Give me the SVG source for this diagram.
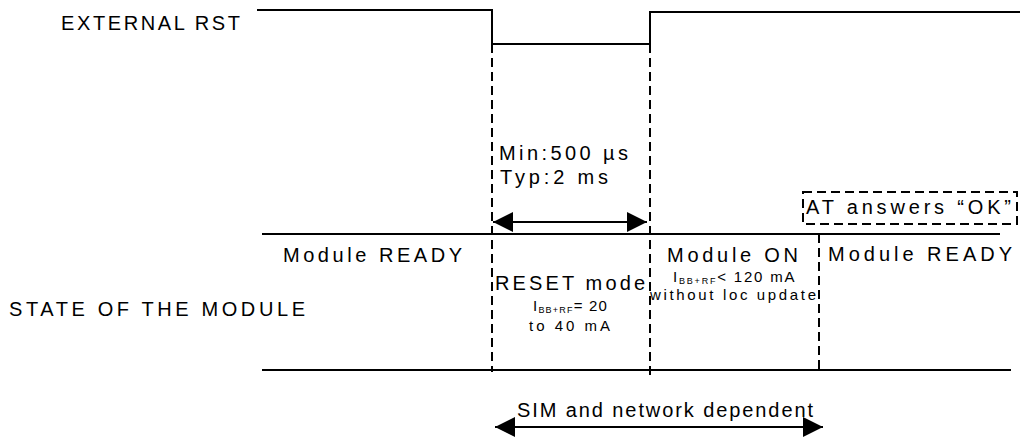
<svg xmlns="http://www.w3.org/2000/svg" width="1020" height="437" viewBox="0 0 1020 437">
<style>
text{font-family:"Liberation Sans",Arial,sans-serif;fill:#000}
.big{font-size:20px}
.sm{font-size:15px}
.sub{font-size:9px}
.sig{fill:none;stroke:#000;stroke-width:2}
.dash{fill:none;stroke:#000;stroke-width:2;stroke-dasharray:9 5}
.arr{stroke:#000;stroke-width:2;marker-start:url(#ah);marker-end:url(#ah)}
</style>
<defs>
<marker id="ah" viewBox="0 0 20 20" refX="20" refY="10" markerWidth="20" markerHeight="20" markerUnits="userSpaceOnUse" orient="auto-start-reverse">
<path d="M0,0 L20,10 L0,20 Z" fill="#000"/>
</marker>
</defs>
<g id="labels">
<text class="big" x="61" y="30" textLength="179" lengthAdjust="spacing">EXTERNAL RST</text>
<text class="big" x="9" y="316" textLength="296" lengthAdjust="spacing">STATE OF THE MODULE</text>
</g>
<g id="rst-signal">
<polyline class="sig" points="257,10 492,10 492,44 650,44 650,12 1020,12"/>
</g>
<g id="state-lines">
<line class="sig" x1="262" y1="234" x2="1000" y2="234"/>
<line class="sig" x1="262" y1="370" x2="1011" y2="370"/>
</g>
<g id="connectors">
<line class="dash" x1="492" y1="44" x2="492" y2="372"/>
<line class="dash" x1="650" y1="44" x2="650" y2="376"/>
<line class="dash" x1="819" y1="234" x2="819" y2="370"/>
<line class="arr" x1="493" y1="222" x2="647" y2="222"/>
<line class="arr" x1="495" y1="427" x2="823" y2="427"/>
</g>
<g id="pulse-width">
<text class="big" x="499" y="160" textLength="129" lengthAdjust="spacing">Min:500 µs</text>
<text class="big" x="500" y="184" textLength="108" lengthAdjust="spacing">Typ:2 ms</text>
</g>
<g id="state-ready-1">
<text class="big" x="283" y="262" textLength="179" lengthAdjust="spacing">Module READY</text>
</g>
<g id="state-reset">
<text class="big" x="495" y="290" textLength="150" lengthAdjust="spacing">RESET mode</text>
<text class="sm" x="533" y="311" letter-spacing="1.2">I<tspan class="sub" dy="2">BB+RF</tspan><tspan dy="-2">= 20</tspan></text>
<text class="sm" x="529" y="331" textLength="81" lengthAdjust="spacing">to 40 mA</text>
</g>
<g id="state-on">
<text class="big" x="667" y="262" textLength="131" lengthAdjust="spacing">Module ON</text>
<text class="sm" x="673" y="282" letter-spacing="1.8">I<tspan class="sub" dy="2">BB+RF</tspan><tspan dy="-2">&lt; 120 mA</tspan></text>
<text class="sm" x="650" y="300" textLength="166" lengthAdjust="spacing">without loc update</text>
</g>
<g id="at-ok">
<rect class="dash" x="803" y="192" width="214" height="32"/>
<text class="big" x="806" y="214" textLength="205" lengthAdjust="spacing">AT answers “OK”</text>
</g>
<g id="state-ready-2">
<text class="big" x="828" y="261" textLength="184" lengthAdjust="spacing">Module READY</text>
</g>
<g id="sim-dependent">
<text class="big" x="517" y="417" textLength="296" lengthAdjust="spacing">SIM and network dependent</text>
</g>
</svg>
